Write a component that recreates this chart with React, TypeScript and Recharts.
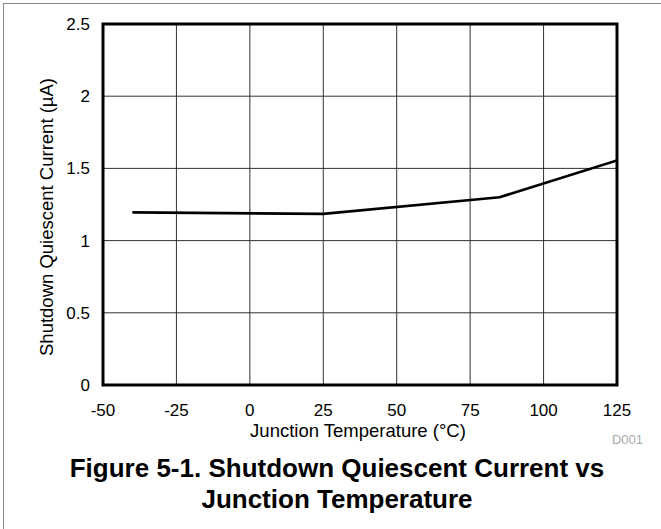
import { LineChart, Line, XAxis, YAxis, CartesianGrid, ReferenceArea } from 'recharts'

const temps = [-40, 25, 85, 125]
const currents = [1.195, 1.185, 1.3, 1.555]
const xTicks = [-50, -25, 0, 25, 50, 75, 100, 125]
const yTicks = [0, 0.5, 1, 1.5, 2, 2.5]

const data = temps.map((t, i) => ({ temp: t, current: currents[i] }))

const font = '"Liberation Sans", Arial, sans-serif'

function XTitle() {
  return (
    <g fontFamily={font}>
      <text x={358} y={437} textAnchor="middle" fontSize={18.5} fill="#000">
        Junction Temperature (°C)
      </text>
      <text x={643} y={444} textAnchor="end" fontSize={13} fill="#aaa">
        D001
      </text>
      <text x={337} y={477} textAnchor="middle" fontSize={26} fontWeight="bold" fill="#000">
        Figure 5-1. Shutdown Quiescent Current vs
      </text>
      <text x={337} y={508} textAnchor="middle" fontSize={26} fontWeight="bold" fill="#000">
        Junction Temperature
      </text>
    </g>
  )
}

function YTitle() {
  return (
    <text
      x={53}
      y={217}
      textAnchor="middle"
      fontFamily={font}
      fontSize={18.5}
      fill="#000"
      transform="rotate(-90 53 217)"
    >
      Shutdown Quiescent Current (µA)
    </text>
  )
}

export default function App() {
  return (
    <div style={{ position: 'absolute', left: 0, top: 0, width: 661, height: 529, background: '#fff', overflow: 'hidden' }}>
      <div
        style={{
          position: 'absolute',
          left: 3,
          top: 3,
          width: 700,
          height: 600,
          borderLeft: '1.5px solid #888',
          borderTop: '1.5px solid #888',
        }}
      />
      <LineChart
        width={661}
        height={529}
        data={data}
        margin={{ top: 24, right: 44, bottom: 114, left: 43 }}
        style={{ position: 'absolute', left: 0, top: 0 }}
      >
        <CartesianGrid stroke="#333" strokeWidth={1} />
        <XAxis
          dataKey="temp"
          type="number"
          domain={[-50, 125]}
          ticks={xTicks}
          allowDataOverflow
          height={30}
          axisLine={false}
          tickLine={false}
          tickSize={0}
          tickMargin={19}
          tick={{ fontSize: 17, fill: '#000', fontFamily: font }}
          label={() => <XTitle />}
        />
        <YAxis
          type="number"
          domain={[0, 2.5]}
          ticks={yTicks}
          width={60}
          axisLine={false}
          tickLine={false}
          tickSize={0}
          tickMargin={13}
          tick={{ fontSize: 17, fill: '#000', fontFamily: font }}
          label={() => <YTitle />}
        />
        <Line
          type="linear"
          dataKey="current"
          stroke="#000"
          strokeWidth={2.7}
          dot={false}
          activeDot={false}
          isAnimationActive={false}
        />
        <ReferenceArea x1={-50} x2={125} y1={0} y2={2.5} fill="none" stroke="#000" strokeWidth={3} />
      </LineChart>
    </div>
  )
}
